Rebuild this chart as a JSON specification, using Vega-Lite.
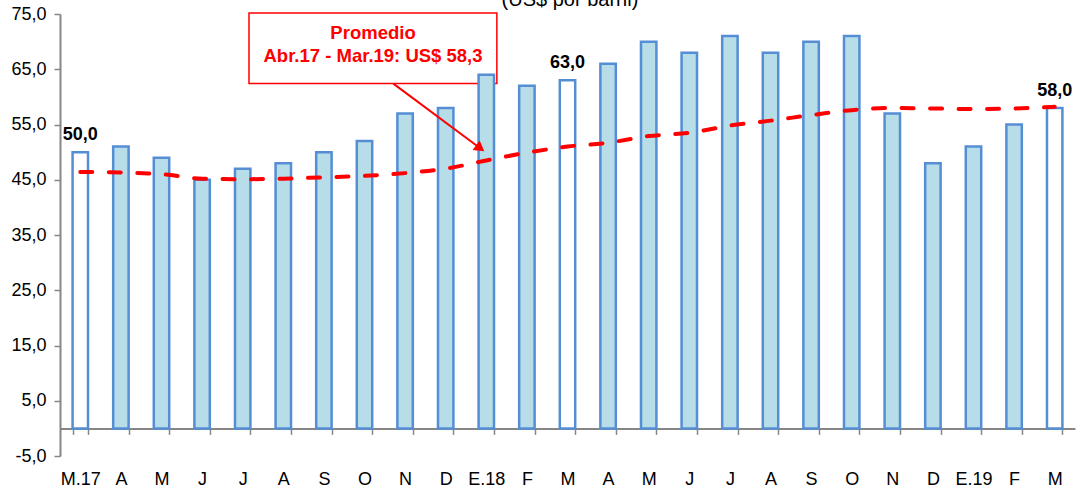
{
  "$schema": "https://vega.github.io/schema/vega-lite/v6.json",
  "width": 1015,
  "height": 442,
  "autosize": {"type": "none"},
  "padding": {"left": 60, "top": 14, "right": 5, "bottom": 33},
  "background": "white",
  "config": {
    "view": {"stroke": null},
    "font": "Liberation Sans",
    "locale": {"number": {"decimal": ",", "thousands": ".", "grouping": [3], "currency": ["US$ ", ""], "minus": "-"}}
  },
  "datasets": {
    "precios": [
      {"mes": "M.17|0", "valor": 50, "prom": 46.4, "destacado": true},
      {"mes": "A|1", "valor": 51, "prom": 46.3, "destacado": false},
      {"mes": "M|2", "valor": 49, "prom": 46.0, "destacado": false},
      {"mes": "J|3", "valor": 45, "prom": 45.2, "destacado": false},
      {"mes": "J|4", "valor": 47, "prom": 45.1, "destacado": false},
      {"mes": "A|5", "valor": 48, "prom": 45.2, "destacado": false},
      {"mes": "S|6", "valor": 50, "prom": 45.45, "destacado": false},
      {"mes": "O|7", "valor": 52, "prom": 45.7, "destacado": false},
      {"mes": "N|8", "valor": 57, "prom": 46.2, "destacado": false},
      {"mes": "D|9", "valor": 58, "prom": 47.0, "destacado": false},
      {"mes": "E.18|10", "valor": 64, "prom": 48.5, "destacado": false},
      {"mes": "F|11", "valor": 62, "prom": 49.9, "destacado": false},
      {"mes": "M|12", "valor": 63, "prom": 51.0, "destacado": true},
      {"mes": "A|13", "valor": 66, "prom": 51.7, "destacado": false},
      {"mes": "M|14", "valor": 70, "prom": 52.9, "destacado": false},
      {"mes": "J|15", "valor": 68, "prom": 53.5, "destacado": false},
      {"mes": "J|16", "valor": 71, "prom": 54.8, "destacado": false},
      {"mes": "A|17", "valor": 68, "prom": 55.7, "destacado": false},
      {"mes": "S|18", "valor": 70, "prom": 56.7, "destacado": false},
      {"mes": "O|19", "valor": 71, "prom": 57.6, "destacado": false},
      {"mes": "N|20", "valor": 57, "prom": 58.0, "destacado": false},
      {"mes": "D|21", "valor": 48, "prom": 57.9, "destacado": false},
      {"mes": "E.19|22", "valor": 51, "prom": 57.8, "destacado": false},
      {"mes": "F|23", "valor": 55, "prom": 57.9, "destacado": false},
      {"mes": "M|24", "valor": 58, "prom": 58.2, "destacado": true}
    ],
    "caja": [
      {"x1": 4.155, "x2": 10.26, "y1": 62.4, "y2": 75.2}
    ],
    "flecha": [
      {"px": 7.71, "py": 62.4},
      {"px": 9.85, "py": 50.7}
    ],
    "punta": [
      {"px": 9.85, "py": 50.7}
    ],
    "textos": [
      {"px": 7.21, "py": 70.55, "t": "Promedio"},
      {"px": 7.21, "py": 66.3, "t": "Abr.17 - Mar.19: US$ 58,3"}
    ],
    "titulo": [
      {"px": 12.06, "py": 76.5, "t": "(US$ por barril)"}
    ]
  },
  "layer": [
    {
      "data": {"name": "caja"},
      "mark": {"type": "rect", "fill": "white", "stroke": "#FF0000", "strokeWidth": 1.5},
      "encoding": {
        "x": {"field": "x1", "type": "quantitative", "scale": {"domain": [-0.5, 24.5], "nice": false, "zero": false}, "axis": null},
        "x2": {"field": "x2"},
        "y": {"field": "y1", "type": "quantitative", "scale": {"domain": [-5, 75], "nice": false, "zero": false}, "axis": {"title": null, "values": [-5, 5, 15, 25, 35, 45, 55, 65, 75], "format": ".1f", "grid": false, "domainColor": "#868686", "domainWidth": 2, "tickColor": "#868686", "tickWidth": 1.5, "tickSize": 6, "labelFontSize": 18, "labelColor": "black", "labelPadding": 8}},
        "y2": {"field": "y2"}
      }
    },
    {
      "data": {"name": "precios"},
      "encoding": {
        "x": {"field": "mes", "type": "nominal", "sort": null, "scale": {"paddingInner": 0.62, "paddingOuter": 0.31},
          "axis": {"title": null, "orient": "bottom", "offset": -27.6, "domainColor": "#868686", "domainWidth": 2, "tickColor": "#868686", "tickWidth": 1.5, "tickSize": 6, "tickBand": "extent", "labelExpr": "split(datum.label, '|')[0]", "labelAngle": 0, "labelFontSize": 18, "labelColor": "black", "labelBaseline": "alphabetic", "labelPadding": 50, "grid": false}}
      },
      "layer": [
        {
          "mark": {"type": "bar", "stroke": "#558ED5", "strokeWidth": 2.5},
          "encoding": {
            "y": {"field": "valor", "type": "quantitative", "scale": {"domain": [-5, 75], "nice": false, "zero": false}, "axis": {"title": null, "values": [-5, 5, 15, 25, 35, 45, 55, 65, 75], "format": ".1f", "grid": false, "domainColor": "#868686", "domainWidth": 2, "tickColor": "#868686", "tickWidth": 1.5, "tickSize": 6, "labelFontSize": 18, "labelColor": "black", "labelPadding": 8}},
            "y2": {"datum": 0},
            "fill": {"condition": {"test": "datum.destacado", "value": "white"}, "value": "#B7DEE8"}
          }
        },
        {
          "mark": {"type": "line", "color": "#FF0000", "strokeWidth": 4, "strokeDash": [12, 16.5], "strokeCap": "round", "interpolate": "monotone"},
          "encoding": {
            "y": {"field": "prom", "type": "quantitative", "scale": {"domain": [-5, 75], "nice": false, "zero": false}, "axis": {"title": null, "values": [-5, 5, 15, 25, 35, 45, 55, 65, 75], "format": ".1f", "grid": false, "domainColor": "#868686", "domainWidth": 2, "tickColor": "#868686", "tickWidth": 1.5, "tickSize": 6, "labelFontSize": 18, "labelColor": "black", "labelPadding": 8}}
          }
        },
        {
          "transform": [{"filter": "datum.destacado"}],
          "mark": {"type": "text", "fontWeight": "bold", "fontSize": 18, "color": "black", "baseline": "alphabetic", "dy": -12},
          "encoding": {
            "y": {"field": "valor", "type": "quantitative", "scale": {"domain": [-5, 75], "nice": false, "zero": false}, "axis": {"title": null, "values": [-5, 5, 15, 25, 35, 45, 55, 65, 75], "format": ".1f", "grid": false, "domainColor": "#868686", "domainWidth": 2, "tickColor": "#868686", "tickWidth": 1.5, "tickSize": 6, "labelFontSize": 18, "labelColor": "black", "labelPadding": 8}},
            "text": {"field": "valor", "type": "quantitative", "format": ".1f"}
          }
        }
      ]
    },
    {
      "encoding": {
        "x": {"field": "px", "type": "quantitative", "scale": {"domain": [-0.5, 24.5], "nice": false, "zero": false}, "axis": null},
        "y": {"field": "py", "type": "quantitative", "scale": {"domain": [-5, 75], "nice": false, "zero": false}, "axis": {"title": null, "values": [-5, 5, 15, 25, 35, 45, 55, 65, 75], "format": ".1f", "grid": false, "domainColor": "#868686", "domainWidth": 2, "tickColor": "#868686", "tickWidth": 1.5, "tickSize": 6, "labelFontSize": 18, "labelColor": "black", "labelPadding": 8}}
      },
      "layer": [
        {
          "data": {"name": "flecha"},
          "mark": {"type": "line", "color": "#FF0000", "strokeWidth": 2}
        },
        {
          "data": {"name": "punta"},
          "mark": {"type": "point", "shape": "triangle-up", "filled": true, "color": "#FF0000", "size": 140, "angle": 126.9, "opacity": 1}
        },
        {
          "data": {"name": "textos"},
          "mark": {"type": "text", "fontWeight": "bold", "fontSize": 18.5, "color": "#FF0000", "baseline": "alphabetic", "align": "center"},
          "encoding": {"text": {"field": "t", "type": "nominal"}}
        },
        {
          "data": {"name": "titulo"},
          "mark": {"type": "text", "fontWeight": "normal", "fontSize": 20, "color": "black", "baseline": "alphabetic", "align": "center"},
          "encoding": {"text": {"field": "t", "type": "nominal"}}
        }
      ]
    }
  ],
  "resolve": {"scale": {"x": "independent"}}
}
